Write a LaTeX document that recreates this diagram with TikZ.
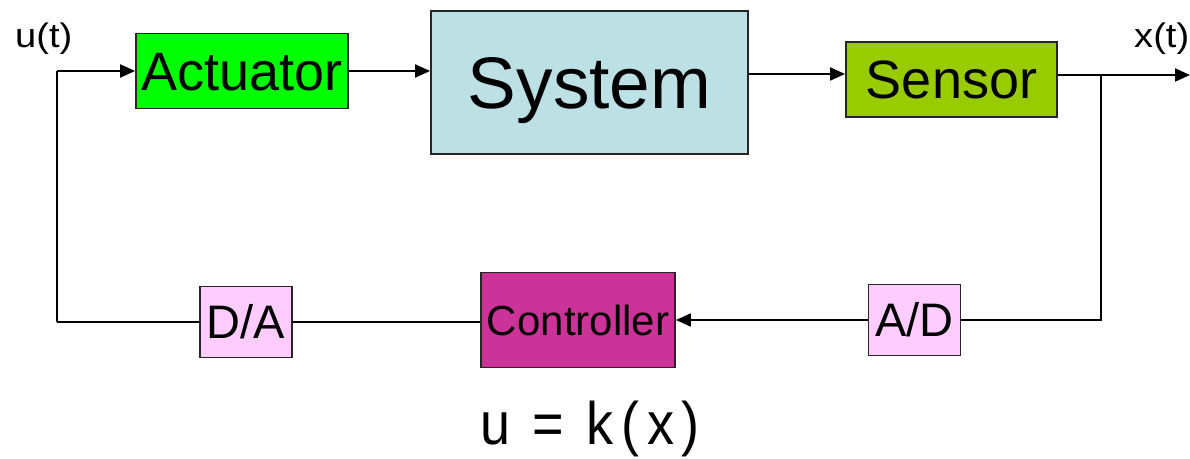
\documentclass[tikz,border=0pt]{standalone}
\usepackage{fontspec}
\setmainfont{Liberation Sans}
\usetikzlibrary{arrows.meta}
\definecolor{actgreen}{HTML}{00FF00}
\definecolor{sysblue}{HTML}{BCE0E4}
\definecolor{sengreen}{HTML}{99CC00}
\definecolor{ctlmag}{HTML}{CC3399}
\definecolor{convpink}{HTML}{FFCCFF}
\tikzset{
  blk/.style={draw=black!85, line width=1.8pt, inner sep=0pt, text depth=0pt, align=center},
  conn/.style={line width=2pt, draw=black},
  arr/.style={conn, -{Triangle[length=15pt,width=13pt]}},
  sig/.style={inner sep=0pt, anchor=base west, font=\fontsize{34}{38}\selectfont},
}
\begin{document}
\begin{tikzpicture}[x=1pt,y=-1pt]
\useasboundingbox (0,0) rectangle (1190,458);

\node[blk, fill=actgreen, minimum width=212pt, minimum height=75pt, text height=38.5pt,
      font=\fontsize{54}{60}\selectfont] (act) at (242,71) {Actuator};
\node[blk, fill=sysblue, minimum width=317pt, minimum height=143pt, text height=52.5pt,
      font=\fontsize{73}{80}\selectfont] (sys) at (589.5,82.5) {System};
\node[blk, fill=sengreen, minimum width=211pt, minimum height=75pt, text height=38.5pt,
      font=\fontsize{54}{60}\selectfont] (sen) at (951.5,79.5) {Sensor};
\node[blk, fill=ctlmag, minimum width=194pt, minimum height=95pt, text height=30pt,
      font=\fontsize{42}{48}\selectfont] (ctl) at (578,320) {Controller};
\node[blk, fill=convpink, minimum width=92pt, minimum height=71pt, text height=33.7pt,
      font=\fontsize{47}{52}\selectfont] (ad) at (914.5,320) {A/D};
\node[blk, fill=convpink, minimum width=92pt, minimum height=71pt, text height=33.7pt,
      font=\fontsize{47}{52}\selectfont] (da) at (246,322) {D/A};

\node[sig] (ut) at (15,47) {\scalebox{1.12}[1]{u(t)}};
\node[sig] (xt) at (1134,47) {\scalebox{1.12}[1]{x(t)}};
\node[inner sep=0pt, anchor=base, font=\fontsize{60}{66}\selectfont\addfontfeature{LetterSpace=14}]
      (law) at (590,444) {\scalebox{0.9}[1]{u = k(x)}};

\coordinate (lc) at (57,71);
\coordinate (lb) at (57,322);
\coordinate (ss) at (748,74);
\coordinate (rc) at (1101,75);
\coordinate (out) at (1190,75);
\coordinate (rb) at (1101,320);

\draw[conn] (lb) -- (lc);
\draw[arr] (lc) -- (act.west);
\draw[arr] (act.east) -- (act.east -| sys.west);
\draw[arr] (ss) -- (ss -| sen.west);
\draw[arr] (sen.east |- out) -- (out);
\draw[conn] (rc) -- (rb) -- (ad.east);
\draw[arr] (ad.west) -- (ctl.east);
\draw[conn] (ctl.west |- da.east) -- (da.east);
\draw[conn] (da.west) -- (lb);
\end{tikzpicture}
\end{document}
